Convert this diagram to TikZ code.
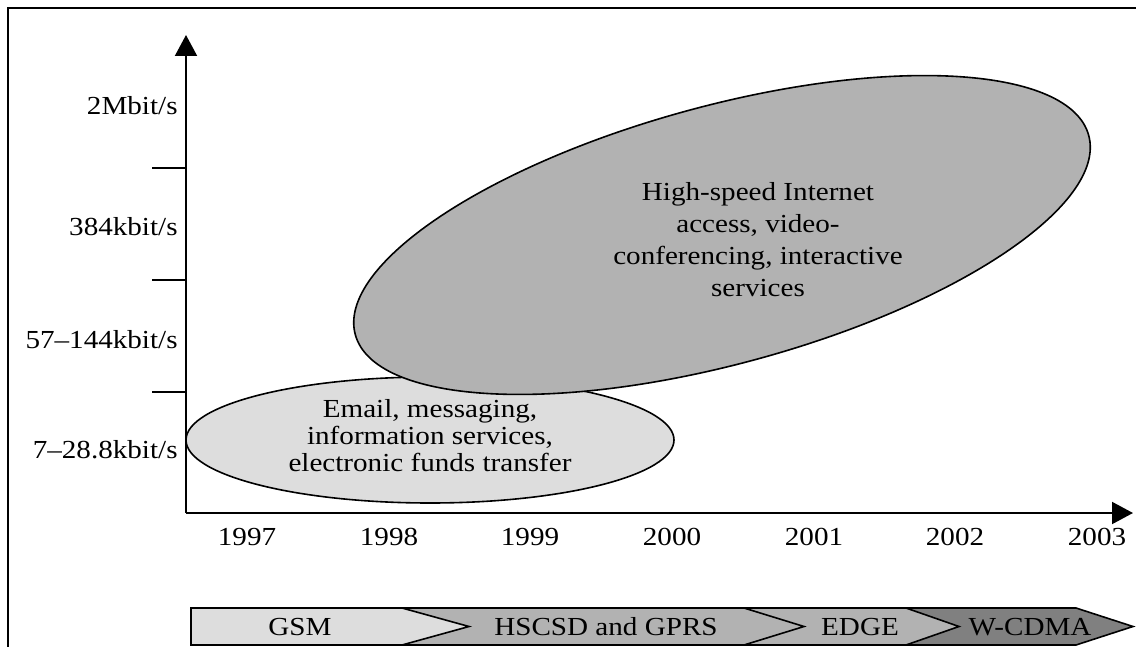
\documentclass[tikz,border=0pt]{standalone}
\usepackage{fontspec}
\setmainfont{Liberation Serif}[FakeStretch=1.12]
\usetikzlibrary{arrows.meta}
\definecolor{lightg}{HTML}{DDDDDD}
\definecolor{midg}{HTML}{B2B2B2}
\definecolor{darkg}{HTML}{808080}
\tikzset{
  lbl/.style={font=\fontsize{13pt}{13.5pt}\selectfont, inner sep=0pt},
  axis/.style={line width=1pt, -{Triangle[length=10.5pt,width=11pt]}},
  tick/.style={line width=1pt},
  outline/.style={draw=black, line width=0.8pt},
  chev/.style={draw=black, line width=0.8pt, line join=miter},
}
\begin{document}
\begin{tikzpicture}[x=0.5pt, y=-0.5pt]
\useasboundingbox (0,0) rectangle (1136,647);
% frame
\draw[line width=1.2pt] (8,647) -- (8,8) -- (1136,8);
% axes
\coordinate (O) at (186,513);
\coordinate (ytop) at (186,35);
\coordinate (xend) at (1133,513);
\draw[axis] (O) -- (ytop);
\draw[axis] (O) -- (xend);
\foreach \y in {168,280,392} \draw[tick] (186,\y) -- (152,\y);
% y labels
\node[lbl, anchor=east] (r1) at (178,106) {2Mbit/s};
\node[lbl, anchor=east] (r2) at (178,227) {384kbit/s};
\node[lbl, anchor=east] (r3) at (178,340) {57--144kbit/s};
\node[lbl, anchor=east] (r4) at (178,450) {7--28.8kbit/s};
% years
\foreach \x/\t in {247/1997,389/1998,530/1999,672/2000,814/2001,955/2002,1097/2003}
  \node[lbl] (y\t) at (\x,537) {\t};
% light ellipse
\fill[lightg] (430,440) ellipse [x radius=244, y radius=63];
\draw[outline] (430,440) ellipse [x radius=244, y radius=63];
\node[lbl, align=center, font=\fontsize{13pt}{13.5pt}\selectfont] (low) at (430,436)
  {Email, messaging,\\information services,\\electronic funds transfer};
% dark blob
\draw[outline, fill=midg, rotate around={15.2:(722,235)}] (722,235) ellipse [x radius=380, y radius=129];
\node[lbl, align=center, font=\fontsize{13pt}{16pt}\selectfont] (high) at (758,240)
  {High-speed Internet\\access, video-\\conferencing, interactive\\services};
% chevron bar
\fill[lightg] (191,608) -- (402,608) -- (469,626.5) -- (402,645) -- (191,645) -- cycle;
\fill[midg] (402,608) -- (744,608) -- (804,626.5) -- (744,645) -- (402,645) -- (469,626.5) -- cycle;
\fill[midg] (744,608) -- (906,608) -- (959,626.5) -- (906,645) -- (744,645) -- (804,626.5) -- cycle;
\fill[darkg] (906,608) -- (1076,608) -- (1133,626.5) -- (1076,645) -- (906,645) -- (959,626.5) -- cycle;
\draw[chev] (191,608) -- (1076,608) -- (1133,626.5) -- (1076,645) -- (191,645) -- cycle;
\draw[chev] (402,608) -- (469,626.5) -- (402,645);
\draw[chev] (744,608) -- (804,626.5) -- (744,645);
\draw[chev] (906,608) -- (959,626.5) -- (906,645);
\node[lbl] (gsm) at (300,627) {GSM};
\node[lbl] (hscsd) at (606,627) {HSCSD and GPRS};
\node[lbl] (edge) at (860,627) {EDGE};
\node[lbl] (wcdma) at (1030,627) {W-CDMA};
\end{tikzpicture}
\end{document}
